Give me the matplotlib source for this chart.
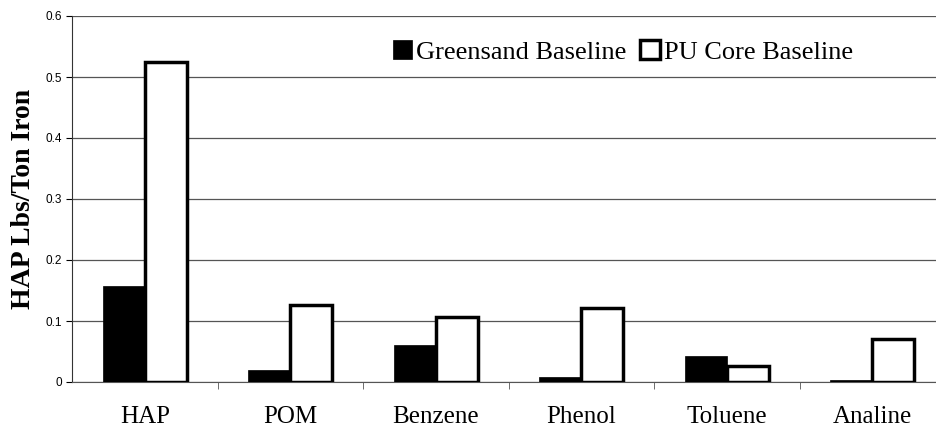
import numpy as np
import matplotlib.pyplot as plt

categories = ["HAP", "POM", "Benzene", "Phenol", "Toluene", "Analine"]
greensand = [0.158, 0.020, 0.060, 0.008, 0.043, 0.003]
pu_core = [0.525, 0.127, 0.106, 0.121, 0.027, 0.071]

fig = plt.figure(figsize=(9.37, 4.32), dpi=100)
ax = fig.add_axes([72 / 937, 50 / 432, 873 / 937, 366 / 432])

x = np.arange(len(categories))
w = 0.29
ax.bar(x - w / 2, greensand, w, color="black", edgecolor="black", linewidth=0.5,
       label="Greensand Baseline", zorder=3)
ax.bar(x + w / 2, pu_core, w, color="white", edgecolor="black", linewidth=2.5,
       label="PU Core Baseline", zorder=3)

ax.set_xlim(-0.5, len(categories) - 0.5)
ax.set_ylim(0, 0.6)
ax.set_yticks(np.arange(0, 0.61, 0.1))
ax.set_yticklabels(["0", "0.1", "0.2", "0.3", "0.4", "0.5", "0.6"],
                   fontsize=8.5, family="Liberation Sans")
ax.yaxis.grid(True, color="#555555", linewidth=0.9, zorder=0)

ax.set_xticks(x)
ax.set_xticklabels(categories, fontsize=18, family="Liberation Serif")
ax.set_xticks(np.arange(0.5, len(categories) - 0.5, 1), minor=True)
ax.tick_params(axis="x", which="major", length=0, pad=17)
ax.tick_params(axis="x", which="minor", length=5, color="#555555")
ax.tick_params(axis="y", length=4, pad=3)

ax.set_ylabel("HAP Lbs/Ton Iron", fontsize=20, fontweight="bold",
              family="Liberation Serif", labelpad=7)

for s in ["top", "right"]:
    ax.spines[s].set_visible(False)
ax.spines["left"].set_color("#333333")
ax.spines["bottom"].set_color("#555555")

ax.legend(loc="upper left", bbox_to_anchor=(0.34, 1.0), ncol=2, frameon=False,
          prop={"family": "Liberation Serif", "size": 19},
          handlelength=0.75, handleheight=0.75, handletextpad=0.15, columnspacing=0.5)

fig.savefig("out.png", dpi=100)
